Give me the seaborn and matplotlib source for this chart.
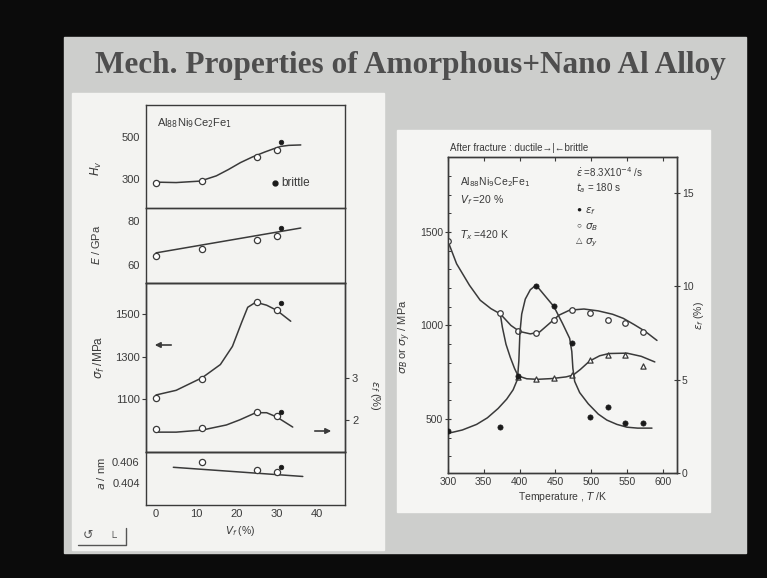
import matplotlib
matplotlib.use("Agg")
import matplotlib.pyplot as plt
import seaborn as sns
import pandas as pd
from matplotlib.patches import Rectangle

# ---------------- data: left figure (vs Vf, %) ----------------
vf_open = [0, 11.5, 25, 30]
vf_brittle = [31]
hv_open = [281, 290, 405, 438]
hv_brittle = [476]
hv_curve_vf = [0, 5, 11, 15, 18, 21, 24, 27, 29, 31, 33, 36]
hv_curve = [285, 283, 290, 315, 345, 378, 405, 428, 442, 455, 460, 462]

e_open = [64.1, 67.3, 71.4, 73.2]
e_brittle = [76.8]
e_line_vf = [0, 36]
e_line = [65.5, 76.8]

sf_open = [1105, 1195, 1557, 1519]
sf_brittle = [1552]
sf_curve_vf = [0, 5, 11.5, 16, 19, 21.3, 22.8, 24.8, 27.5, 30, 33.5]
sf_curve = [1118, 1140, 1200, 1262, 1348, 1462, 1533, 1557, 1543, 1519, 1467]

ef_open = [1.78, 1.81, 2.19, 2.10]
ef_brittle = [2.19]
ef_curve_vf = [0, 5, 11.5, 17.5, 20.8, 24.8, 27.5, 30, 34]
ef_curve = [1.71, 1.71, 1.76, 1.88, 2.00, 2.17, 2.17, 2.07, 1.83]

a_vf_open = [11.5, 25, 30]
a_open = [0.4060, 0.4052, 0.4050]
a_brittle = [0.4055]
a_line_vf = [4.3, 36.5]
a_line = [0.4055, 0.4046]

# ---------------- data: right figure (vs T, K) ----------------
T_pts = [300, 373, 398, 423, 448, 473, 498, 523, 548, 573]
sigB = [1450, 1065, 970, 960, 1030, 1083, 1067, 1030, 1013, 965]
epsf = [2.25, 2.46, 5.19, 10.0, 8.93, 6.95, 3.0, 3.53, 2.67, 2.67]
T_sy = [398, 423, 448, 473, 498, 523, 548, 573]
sigY = [722, 714, 719, 735, 816, 842, 842, 783]

sigB_curve_T = [300, 312, 330, 345, 360, 373, 388, 400, 415, 428, 440, 455, 470,
                490, 510, 530, 545, 560, 575, 592]
sigB_curve = [1450, 1330, 1215, 1135, 1090, 1062, 1000, 968, 955, 965, 1005, 1055,
              1082, 1088, 1078, 1060, 1038, 1005, 970, 920]
sigY_curve_T = [373, 376, 381, 387, 393, 398, 410, 425, 445, 465, 475, 485, 498,
                512, 525, 550, 570, 589]
sigY_curve = [1062, 990, 900, 830, 770, 730, 715, 712, 716, 725, 735, 765, 810,
              838, 850, 852, 835, 805]
eps_curve_T = [300, 320, 340, 355, 370, 382, 391, 397, 399, 400.5, 403, 408, 415,
               423, 448, 460, 470, 473, 474.5, 477, 484, 496, 510, 522, 536, 550,
               565, 585]
eps_curve = [2.12, 2.3, 2.6, 2.95, 3.45, 3.95, 4.45, 5.0, 6.0, 7.5, 8.5, 9.3, 9.8,
             10.05, 8.9, 8.0, 7.2, 6.5, 5.6, 4.9, 4.3, 3.7, 3.15, 2.83, 2.6, 2.45,
             2.4, 2.4]

# ---------------- styling ----------------
W, H = 767, 578
INK = "#3a3a3a"
sns.set_theme(style="white")
plt.rcParams["font.family"] = ["Liberation Sans", "DejaVu Sans"]
plt.rcParams["mathtext.fontset"] = "dejavusans"

fig = plt.figure(figsize=(W / 100, H / 100), dpi=100)
fig.patch.set_facecolor("#0b0b0b")


def frect(x0, y0, x1, y1, color):
    fig.patches.append(Rectangle((x0 / W, 1 - y1 / H), (x1 - x0) / W, (y1 - y0) / H,
                                 transform=fig.transFigure, color=color, zorder=-10))


def ax_at(x0, y0, x1, y1):
    return fig.add_axes([x0 / W, 1 - y1 / H, (x1 - x0) / W, (y1 - y0) / H])


def ftext(x, y, s, **kw):
    kw.setdefault("color", INK)
    return fig.text(x / W, 1 - y / H, s, **kw)


def farrow(x0, x1, y):
    fig.add_artist(matplotlib.patches.FancyArrowPatch(
        (x0 / W, 1 - y / H), (x1 / W, 1 - y / H), transform=fig.transFigure,
        arrowstyle="-|>", mutation_scale=8, color=INK, lw=1.2))


# slide + panels
frect(64, 37, 746, 553, "#cdcecc")
frect(72, 93, 384, 550, "#f3f3f1")
frect(397, 130, 710, 512, "#f5f5f3")

ftext(410, 66, "Mech. Properties of Amorphous+Nano Al Alloy", ha="center", va="center",
      family="Liberation Serif", weight="bold", size=22.5, color="#4e4e4e")


def style_ax(ax, fs=8):
    ax.set_facecolor("none")
    for sp in ax.spines.values():
        sp.set_color(INK)
        sp.set_linewidth(1.0)
        sp.set_visible(True)
    ax.tick_params(colors=INK, labelcolor=INK, labelsize=fs, width=0.8, length=3)
    ax.set_xlabel("")
    ax.set_ylabel("")


def curve(ax, x, y):
    sns.lineplot(x=x, y=y, ax=ax, sort=False, estimator=None, color=INK, lw=1.1)


def open_pts(ax, x, y, s=20, marker="o"):
    sns.scatterplot(x=x, y=y, ax=ax, s=s, marker=marker, facecolor="white",
                    edgecolor=INK, linewidth=0.9, zorder=5)


def fill_pts(ax, x, y, s=11):
    sns.scatterplot(x=x, y=y, ax=ax, s=s, color="#1a1a1a", edgecolor="#1a1a1a",
                    linewidth=0.5, zorder=6)


# ---------------- left figure ----------------
axHv = ax_at(146, 105, 345, 208)
axE = ax_at(146, 208, 345, 283)
axS = ax_at(146, 283, 345, 452)
axA = ax_at(146, 452, 345, 505)
left = [axHv, axE, axS, axA]

curve(axHv, hv_curve_vf, hv_curve)
open_pts(axHv, vf_open, hv_open)
fill_pts(axHv, vf_brittle, hv_brittle)
axHv.set_ylim(162, 652)
axHv.set_yticks([300, 500])

curve(axE, e_line_vf, e_line)
open_pts(axE, vf_open, e_open)
fill_pts(axE, vf_brittle, e_brittle)
axE.set_ylim(51.8, 85.9)
axE.set_yticks([60, 80])

curve(axS, sf_curve_vf, sf_curve)
open_pts(axS, vf_open, sf_open)
fill_pts(axS, vf_brittle, sf_brittle)
axS.set_ylim(848, 1648)
axS.set_yticks([1100, 1300, 1500])
axS2 = axS.twinx()
curve(axS2, ef_curve_vf, ef_curve)
open_pts(axS2, vf_open, ef_open)
fill_pts(axS2, vf_brittle, ef_brittle)
axS2.set_ylim(1.24, 5.24)
axS2.set_yticks([2, 3])

curve(axA, a_line_vf, a_line)
open_pts(axA, a_vf_open, a_open)
fill_pts(axA, vf_brittle, a_brittle)
axA.set_ylim(0.4018, 0.4070)
axA.set_yticks([0.404, 0.406])
axA.set_yticklabels(["0.404", "0.406"])

for ax in left + [axS2]:
    style_ax(ax)
    ax.set_xlim(-2.5, 47)
    ax.set_xticks([0, 10, 20, 30, 40])
    ax.grid(False)
for ax in left:
    ax.tick_params(axis="y", direction="out", length=3, pad=1.5)
    ax.tick_params(axis="x", direction="in", length=3, labelbottom=False)
axS2.tick_params(axis="y", direction="out", length=3, pad=2)
axA.tick_params(axis="x", labelbottom=True, pad=3)

ftext(157, 123, r"Al$_{88}$Ni$_9$Ce$_2$Fe$_1$", size=8, va="center")
fig.add_artist(matplotlib.lines.Line2D([275 / W], [1 - 183 / H], marker="o", ms=3.5,
                                       color="#1a1a1a", transform=fig.transFigure))
ftext(281, 183, "brittle", size=8.5, va="center")
ftext(96, 168, r"$H_v$", size=8.5, rotation=90, ha="center", va="center")
ftext(96, 245, r"$E$ / GPa", size=8, rotation=90, ha="center", va="center")
ftext(99, 357, r"$\sigma_f$ /MPa", size=8.5, rotation=90, ha="center", va="center")
ftext(375, 395, r"$\varepsilon_f$ (%)", size=8, rotation=270, ha="center", va="center")
ftext(101, 474, r"$a$ / nm", size=8, rotation=90, ha="center", va="center")
ftext(240, 531, r"$V_f$ (%)", size=7.5, ha="center", va="center")
farrow(174, 152, 345)
farrow(312, 334, 431)

# small logo at bottom-left
fig.add_artist(matplotlib.lines.Line2D([78 / W, 126 / W, 126 / W],
                                       [1 - 545 / H, 1 - 545 / H, 1 - 528 / H],
                                       color="#555555", lw=1.0, transform=fig.transFigure))
ftext(88, 536, "\u21ba", size=9, ha="center", va="center", color="#555555")
ftext(112, 538, "\u2514", size=8, ha="center", va="center", color="#555555")

# ---------------- right figure ----------------
axR = ax_at(448, 157, 677, 473)
curve(axR, sigB_curve_T, sigB_curve)
curve(axR, sigY_curve_T, sigY_curve)
open_pts(axR, T_pts, sigB, s=16)
open_pts(axR, T_sy, sigY, s=14, marker="^")
axR.set_xlim(300, 620)
axR.set_ylim(211, 1901)
axR.set_yticks([500, 1000, 1500])
axR.set_yticks(list(range(300, 1900, 100)), minor=True)
axR.set_xticks([300, 350, 400, 450, 500, 550, 600])

axR2 = axR.twinx()
curve(axR2, eps_curve_T, eps_curve)
fill_pts(axR2, T_pts, epsf, s=14)
axR2.set_ylim(0, 16.9)
axR2.set_yticks([0, 5, 10, 15])

for ax in (axR, axR2):
    style_ax(ax, fs=7.5)
    ax.grid(False)
axR.tick_params(axis="y", which="major", direction="inout", length=5, pad=1)
axR.tick_params(axis="y", which="minor", direction="in", length=2.5, left=True,
                width=0.7, color=INK)
axR.tick_params(axis="x", direction="in", length=3, top=True, bottom=True, pad=3)
axR2.tick_params(axis="y", direction="inout", length=5, pad=1)

ftext(450, 148, "After fracture : ductile\u2192|\u2190brittle", size=7, va="center")
ftext(460, 182, r"Al$_{88}$Ni$_9$Ce$_2$Fe$_1$", size=7.5, va="center")
ftext(460, 200, r"$V_f$ =20 %", size=7.5, va="center")
ftext(460, 235, r"$T_x$ =420 K", size=7.5, va="center")
ftext(576, 172, r"$\dot{\varepsilon}$ =8.3X10$^{-4}$ /s", size=7, va="center")
ftext(576, 188, r"$t_a$ = 180 s", size=7, va="center")
ftext(576, 210, "\u25cf", size=6, va="center", color="#1a1a1a")
ftext(585, 211, r"$\varepsilon_f$", size=7.5, va="center")
ftext(576, 226, "\u25cb", size=6, va="center")
ftext(585, 227, r"$\sigma_B$", size=7.5, va="center")
ftext(576, 242, "\u25b3", size=6, va="center")
ftext(585, 243, r"$\sigma_y$", size=7.5, va="center")
ftext(405, 337, r"$\sigma_B$ or $\sigma_y$ / MPa", size=8, rotation=90,
      ha="center", va="center")
ftext(699, 316, r"$\varepsilon_f$ (%)", size=7.5, rotation=90, ha="center", va="center")
ftext(562, 497, r"Temperature , $T$ /K", size=7.5, ha="center", va="center")

fig.savefig("out.png", dpi=100, facecolor=fig.get_facecolor())
